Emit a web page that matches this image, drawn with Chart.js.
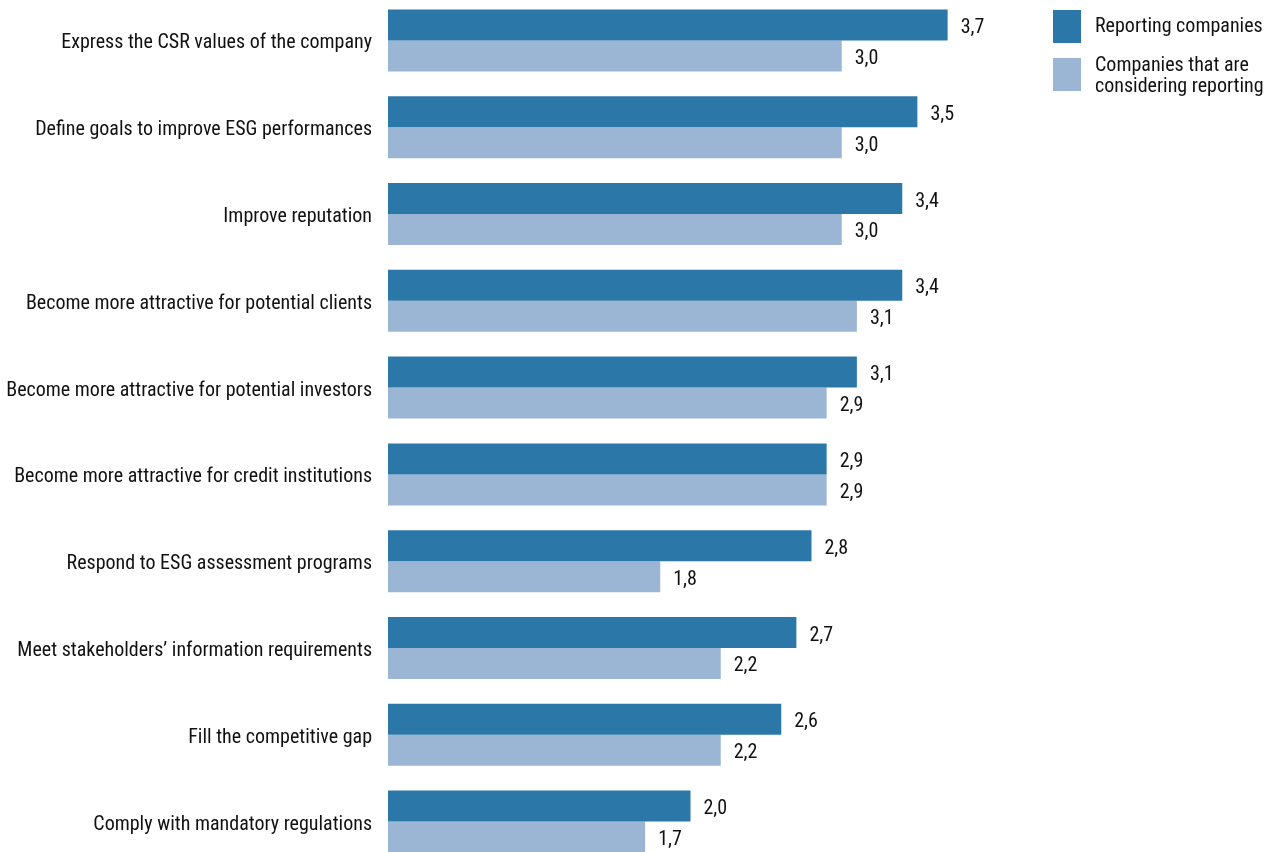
<!DOCTYPE html>
<html>
<head>
<meta charset="utf-8">
<script src="https://cdn.jsdelivr.net/npm/chart.js@4"></script>
<style>
  html, body { margin: 0; padding: 0; background: #fff; overflow: hidden; }
  body { width: 1272px; height: 852px; position: relative; font-family: "Roboto Condensed", "DejaVu Sans Condensed", sans-serif; color: #111; }
  #wrap { position: absolute; left: 0; top: -3px; width: 1272px; height: 868px; }
  .legend-box { position: absolute; left: 1053px; width: 28px; height: 33px; }
  .legend-text { position: absolute; left: 1095px; font-size: 20px; line-height: 21px; }
</style>
</head>
<body>
<div id="wrap"><canvas id="barChart"></canvas></div>

<div class="legend-box" style="top:10px;background:#2b78a8"></div>
<div class="legend-text" style="top:15px">Reporting companies</div>
<div class="legend-box" style="top:58px;background:#9bb6d5"></div>
<div class="legend-text" style="top:54px">Companies that are<br>considering reporting</div>

<script>
// categories (top to bottom)
const categories = [
    'Express the CSR values of the company',
    'Define goals to improve ESG performances',
    'Improve reputation',
    'Become more attractive for potential clients',
    'Become more attractive for potential investors',
    'Become more attractive for credit institutions',
    'Respond to ESG assessment programs',
    'Meet stakeholders\u2019 information requirements',
    'Fill the competitive gap',
    'Comply with mandatory regulations'
];
// average scores
const reporting = [3.7, 3.5, 3.4, 3.4, 3.1, 2.9, 2.8, 2.7, 2.6, 2.0];
const considering = [3.0, 3.0, 3.0, 3.1, 2.9, 2.9, 1.8, 2.2, 2.2, 1.7];

const fontFamily = '"Roboto Condensed", "DejaVu Sans Condensed", sans-serif';

// value labels at bar ends, comma decimal
const valueLabels = {
    id: 'valueLabels',
    afterDatasetsDraw(chart) {
        const ctx = chart.ctx;
        ctx.save();
        ctx.font = '20px ' + fontFamily;
        ctx.fillStyle = '#111';
        ctx.textBaseline = 'middle';
        ctx.textAlign = 'left';
        chart.data.datasets.forEach((ds, i) => {
            chart.getDatasetMeta(i).data.forEach((bar, j) => {
                const txt = ds.data[j].toFixed(1).replace('.', ',');
                ctx.fillText(txt, bar.x + 13, bar.y + 3);
            });
        });
        ctx.restore();
    }
};

new Chart(document.getElementById('barChart'), {
    type: 'bar',
    data: {
        labels: categories,
        datasets: [
            { label: 'Reporting companies', data: reporting, backgroundColor: '#2b78a8' },
            { label: 'Companies that are considering reporting', data: considering, backgroundColor: '#9bb6d5' }
        ]
    },
    options: {
        indexAxis: 'y',
        responsive: true,
        maintainAspectRatio: false,
        animation: false,
        layout: { padding: { left: 0, right: 279, top: 0, bottom: 0 } },
        datasets: { bar: { barPercentage: 1, categoryPercentage: 0.714 } },
        plugins: { legend: { display: false }, tooltip: { enabled: false } },
        scales: {
            x: { display: false, min: 0, max: 4 },
            y: {
                grid: { display: false, drawTicks: false },
                border: { display: false },
                ticks: { color: '#111', padding: 16, labelOffset: 3, font: { family: fontFamily, size: 20 } },
                afterFit: s => { s.width = 388; s.paddingTop = 0; s.paddingBottom = 0; }
            }
        }
    },
    plugins: [valueLabels]
});
</script>
</body>
</html>
